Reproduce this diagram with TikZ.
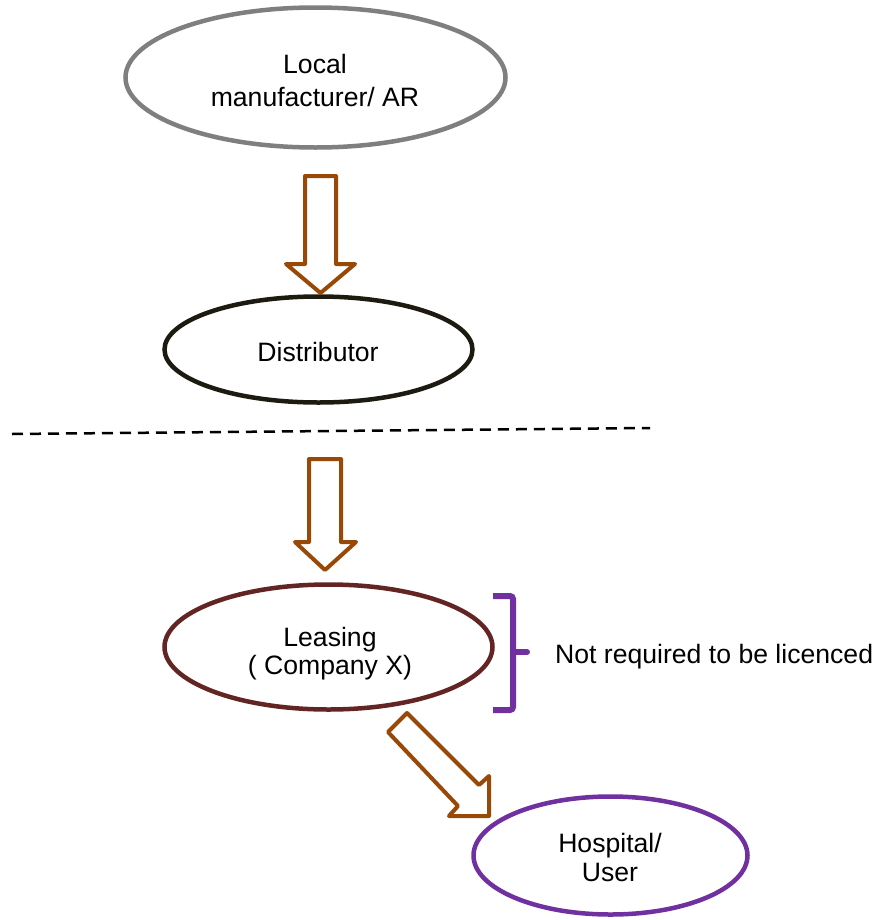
\documentclass[tikz,border=0pt]{standalone}
\usepackage{fontspec}
\setmainfont{Liberation Sans}
\usetikzlibrary{shapes.geometric}
\definecolor{cgray}{RGB}{127,127,127}
\definecolor{cdark}{RGB}{29,27,17}
\definecolor{cleas}{RGB}{99,37,35}
\definecolor{cpurp}{RGB}{112,48,160}
\definecolor{carrow}{RGB}{152,72,7}
\tikzset{
  ell/.style={draw, ellipse, line width=4.5bp, inner sep=0pt, fill=white},
  lbl/.style={align=center, inner sep=0pt, font=\fontsize{26.6bp}{#1}\selectfont},
  lbl/.default={30bp},
  blockarrow/.style={draw=carrow, line width=4bp, line join=round, fill=white},
  brack/.style={draw=cpurp, line width=6bp, rounded corners=3bp},
  sep/.style={draw=black, line width=2.5bp, dash pattern=on 11bp off 7bp},
}
\begin{document}
\begin{tikzpicture}[x=1bp, y=-1bp]
\useasboundingbox (0,0) rectangle (880,920);
% ellipses
\node[ell, draw=cgray, minimum width=380bp, minimum height=140bp] (mfr) at (315.5,77.5) {};
\node[lbl={33.4bp}] (mfrT) at (315,80.7) {Local\\manufacturer/ AR};
\node[ell, draw=cdark, minimum width=308bp, minimum height=106bp] (dist) at (318.5,349.5) {};
\node[lbl] (distT) at (318,351.5) {Distributor};
\node[ell, draw=cleas, minimum width=328bp, minimum height=125bp] (leas) at (328.5,647) {};
\node[lbl={27.6bp}] (leasT) at (330,653.9) {Leasing\\( Company X)};
\node[ell, draw=cpurp, minimum width=274bp, minimum height=118bp] (hosp) at (610.5,855.5) {};
\node[lbl={29bp}] (hospT) at (610,857.7) {Hospital/\\User};
% separator
\coordinate (sepL) at (12,434);
\coordinate (sepR) at (650,428);
\draw[sep] (sepL) -- (sepR);
% block arrows
\draw[blockarrow] (305,176) -- (336,176) -- (336,264) -- (355,264) -- (320.5,293) -- (286,264) -- (305,264) -- cycle;
\draw[blockarrow] (309,459) -- (341,459) -- (341,542) -- (356,542) -- (325,570) -- (295,542) -- (309,542) -- cycle;
\draw[blockarrow] (407,713) -- (479,785) -- (489,776) -- (489,816) -- (449,816) -- (458,806) -- (388,732) -- cycle;
% bracket
\draw[brack] (493,596) -- (513,596) -- (513,710) -- (493,710);
\draw[draw=cpurp, line width=6bp, line cap=round] (513,652) -- (527,652);
\node[anchor=base west, inner sep=0pt, font=\fontsize{26.6bp}{30bp}\selectfont] (note) at (555,663) {Not required to be licenced};
\end{tikzpicture}
\end{document}
